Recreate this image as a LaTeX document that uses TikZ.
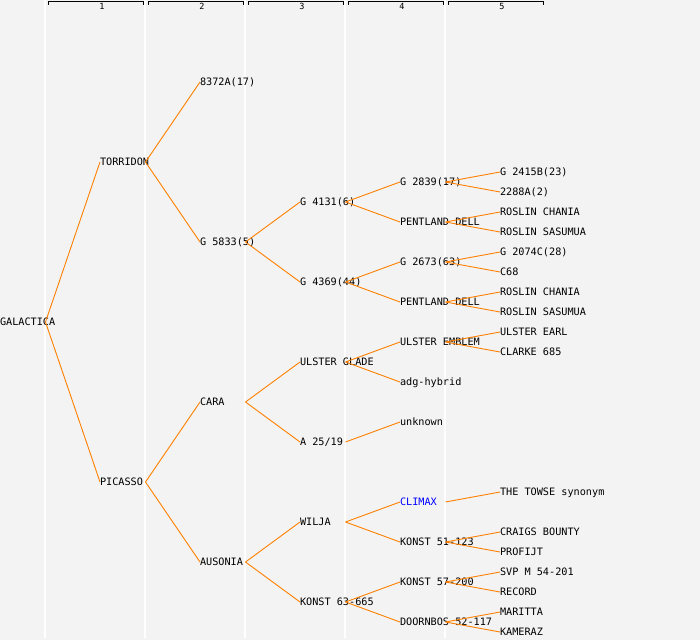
\documentclass[tikz,border=0pt]{standalone}
\usepackage{fontspec}
\setmonofont{DejaVu Sans Mono}
\usetikzlibrary{positioning}
\definecolor{pagegray}{RGB}{243,243,243}
\definecolor{twigorange}{RGB}{255,128,0}
\definecolor{markblue}{RGB}{0,0,255}

\begin{document}
\begin{tikzpicture}[x=1pt,y=-1pt]
    \tikzset{
      taxon/.style={anchor=west, inner sep=0pt, outer sep=0pt, text height=7.3pt, text depth=0pt,
                    font=\ttfamily\fontsize{10.2}{12}\selectfont},
      twig/.style={draw=twigorange, line width=0.9pt},
      gen/.style={font=\ttfamily\fontsize{8.5}{9}\selectfont, inner sep=0pt},
    }

    % Background and generation grid.
    \fill[pagegray] (0,0) rectangle (700,640);
    \useasboundingbox (0,0) rectangle (700,640);
    \foreach \x in {45,145,...,445} \draw[white, line width=1.2pt] (\x,0) -- (\x,638);

    % Generation key.
    \foreach \g in {1,...,5} {
      \draw[line width=1pt] (\g*100-52,4.5) -- (\g*100-52,1.5) -- (\g*100+43,1.5) -- (\g*100+43,4.5);
      \node[gen] (g\g) at (\g*100+2,6.5) {\g};
    }

    % Root and first generation.
    \path (0,322)   node[taxon] (gal)     {GALACTICA};
    \path (100,162) node[taxon] (tor)     {TORRIDON};
    \path (100,482) node[taxon] (pic)     {PICASSO};

    % Second generation.
    \path (200,82)  node[taxon] (a8372)   {8372A(17)};
    \path (200,242) node[taxon] (g5833)   {G 5833(5)};
    \path (200,402) node[taxon] (cara)    {CARA};
    \path (200,562) node[taxon] (ausonia) {AUSONIA};

    % Third generation.
    \path (300,202) node[taxon] (g4131)   {G 4131(6)};
    \path (300,282) node[taxon] (g4369)   {G 4369(44)};
    \path (300,362) node[taxon] (uglade)  {ULSTER GLADE};
    \path (300,442) node[taxon] (a2519)   {A 25/19};
    \path (300,522) node[taxon] (wilja)   {WILJA};
    \path (300,602) node[taxon] (k63)     {KONST 63-665};

    % Fourth generation.
    \path (400,182) node[taxon] (g2839)   {G 2839(17)};
    \path (400,222) node[taxon] (pdellA)  {PENTLAND DELL};
    \path (400,262) node[taxon] (g2673)   {G 2673(63)};
    \path (400,302) node[taxon] (pdellB)  {PENTLAND DELL};
    \path (400,342) node[taxon] (uemblem) {ULSTER EMBLEM};
    \path (400,382) node[taxon] (adg)     {adg-hybrid};
    \path (400,422) node[taxon] (unknown) {unknown};
    \path (400,502) node[taxon, text=markblue] (climax) {CLIMAX};
    \path (400,542) node[taxon] (k51)     {KONST 51-123};
    \path (400,582) node[taxon] (k57)     {KONST 57-200};
    \path (400,622) node[taxon] (doorn)   {DOORNBOS 52-117};

    % Fifth generation.
    \path (500,172) node[taxon] (g2415)   {G 2415B(23)};
    \path (500,192) node[taxon] (a2288)   {2288A(2)};
    \path (500,212) node[taxon] (rchanA)  {ROSLIN CHANIA};
    \path (500,232) node[taxon] (rsasA)   {ROSLIN SASUMUA};
    \path (500,252) node[taxon] (g2074)   {G 2074C(28)};
    \path (500,272) node[taxon] (c68)     {C68};
    \path (500,292) node[taxon] (rchanB)  {ROSLIN CHANIA};
    \path (500,312) node[taxon] (rsasB)   {ROSLIN SASUMUA};
    \path (500,332) node[taxon] (uearl)   {ULSTER EARL};
    \path (500,352) node[taxon] (clarke)  {CLARKE 685};
    \path (500,492) node[taxon] (towse)   {THE TOWSE synonym};
    \path (500,532) node[taxon] (craigs)  {CRAIGS BOUNTY};
    \path (500,552) node[taxon] (profijt) {PROFIJT};
    \path (500,572) node[taxon] (svp)     {SVP M 54-201};
    \path (500,592) node[taxon] (record)  {RECORD};
    \path (500,612) node[taxon] (maritta) {MARITTA};
    \path (500,632) node[taxon] (kameraz) {KAMERAZ};

    % Parent -- child links.
    \foreach \p/\c in {gal/tor, gal/pic, tor/a8372, tor/g5833, pic/cara, pic/ausonia,
                       g5833/g4131, g5833/g4369, cara/uglade, cara/a2519, ausonia/wilja, ausonia/k63,
                       g4131/g2839, g4131/pdellA, g4369/g2673, g4369/pdellB, uglade/uemblem, uglade/adg,
                       a2519/unknown, wilja/climax, wilja/k51, k63/k57, k63/doorn,
                       g2839/g2415, g2839/a2288, pdellA/rchanA, pdellA/rsasA, g2673/g2074, g2673/c68,
                       pdellB/rchanB, pdellB/rsasB, uemblem/uearl, uemblem/clarke, climax/towse,
                       k51/craigs, k51/profijt, k57/svp, k57/record, doorn/maritta, doorn/kameraz}
      \draw[twig] ([xshift=45.5pt]\p.west) -- (\c.west);

\end{tikzpicture}
\end{document}
